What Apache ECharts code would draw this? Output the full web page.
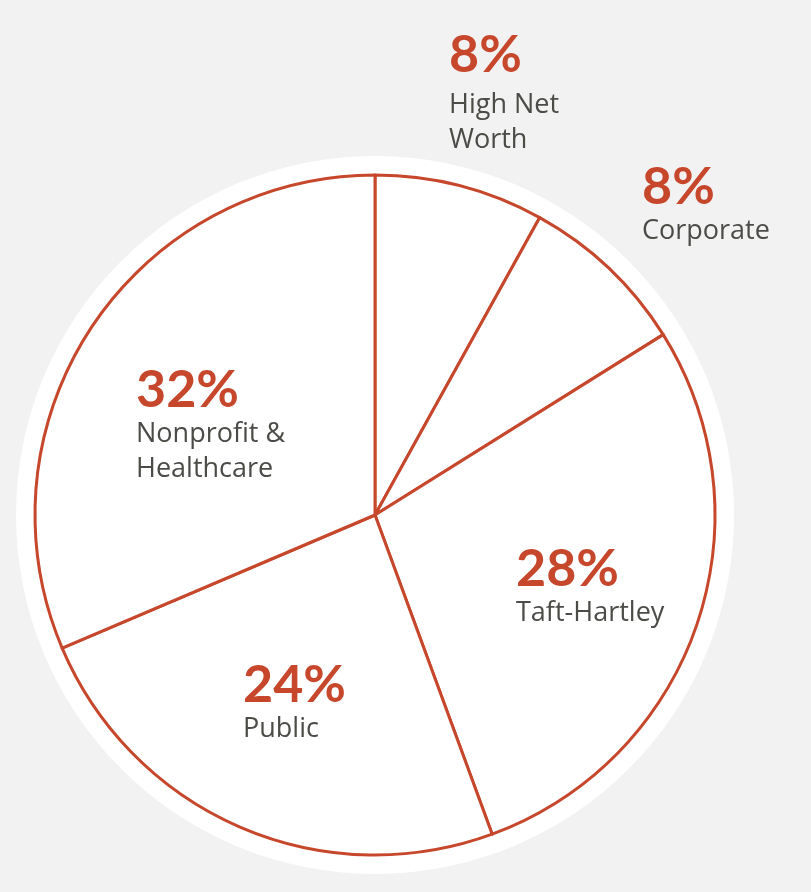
<!DOCTYPE html>
<html>
<head>
<meta charset="utf-8">
<script src="https://cdn.jsdelivr.net/npm/echarts@6/dist/echarts.min.js"></script>
<style>
html,body{margin:0;padding:0;background:#f2f2f2;}
#chart{width:811px;height:892px;}
</style>
</head>
<body>
<div id="chart"></div>
<script>
const categories = ['High Net\nWorth', 'Corporate', 'Taft-Hartley', 'Public', 'Nonprofit &\nHealthcare'];
// slice sizes as drawn in the picture
const shares = [8.05, 8.05, 28.3, 24.2, 31.4];
// percentages printed on the chart
const labelPercents = [8, 8, 28, 24, 32];

// label placement (offset of label top-left from pie centre, px) and percent text style
const labelOffsets = [
  [74, -493],
  [267, -355],
  [141, 27],
  [-132, 143],
  [-239, -152]
];
const percentStyles = ['pTall', 'p', 'p', 'p', 'p'];

const RED = '#c6472b';
const CX = 375, CY = 515;

const chart = echarts.init(document.getElementById('chart'), null, {renderer: 'canvas'});
chart.setOption({
  backgroundColor: '#f2f2f2',
  animation: false,
  series: [
    {
      type: 'pie',
      silent: true,
      center: [CX, CY],
      radius: [0, 359],
      label: {show: false},
      labelLine: {show: false},
      itemStyle: {color: '#ffffff', borderWidth: 0},
      data: [{value: 1, name: 'bg'}]
    },
    {
      type: 'pie',
      center: [CX, CY],
      radius: [0, 340],
      startAngle: 90,
      clockwise: true,
      avoidLabelOverlap: false,
      itemStyle: {color: '#ffffff', borderColor: RED, borderWidth: 3},
      emphasis: {disabled: true},
      labelLine: {show: false},
      label: {
        show: true,
        position: 'inside',
        formatter: function (p) {
          return '{' + percentStyles[p.dataIndex] + '|' + labelPercents[p.dataIndex] + '%}\n{n|' + p.name + '}';
        },
        align: 'left',
        rich: {
          p: {fontFamily: 'Lato', fontWeight: 'bold', fontSize: 52, lineHeight: 54, color: RED, align: 'left'},
          pTall: {fontFamily: 'Lato', fontWeight: 'bold', fontSize: 52, lineHeight: 66, color: RED, align: 'left'},
          n: {fontFamily: 'Open Sans', fontSize: 27, lineHeight: 35, color: '#4b4b47', align: 'left'}
        }
      },
      labelLayout: function (params) {
        const off = labelOffsets[params.dataIndex];
        if (!off) return {};
        return {x: CX + off[0], y: CY + off[1], align: 'left', verticalAlign: 'top'};
      },
      data: categories.map((c, i) => ({name: c, value: shares[i]}))
    }
  ]
});
</script>
</body>
</html>
